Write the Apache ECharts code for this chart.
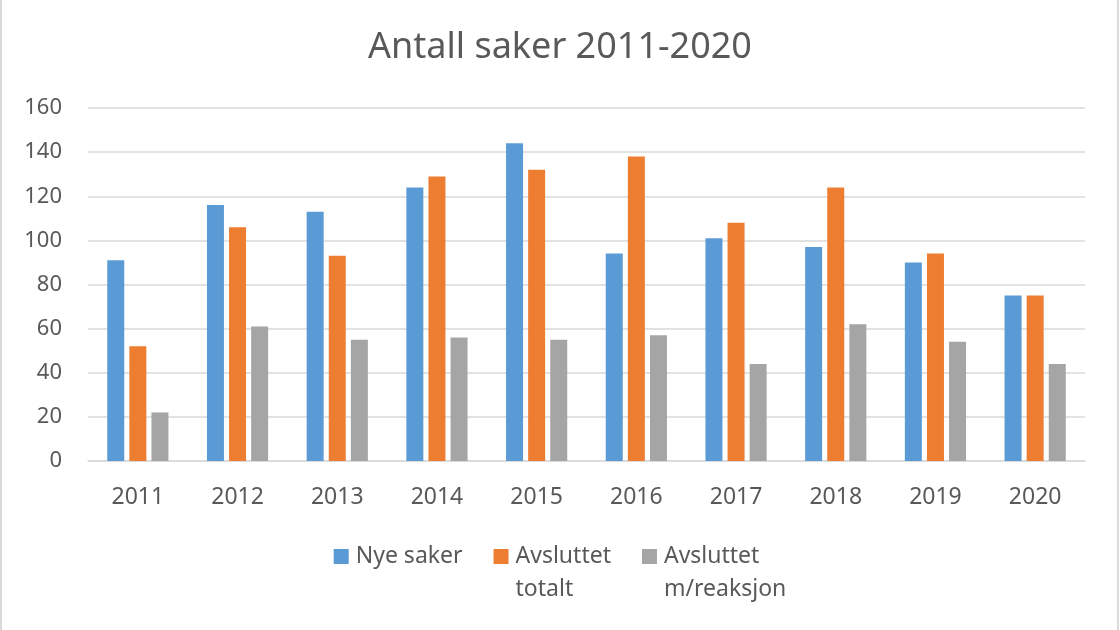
<!DOCTYPE html>
<html>
<head>
<meta charset="utf-8">
<script src="https://cdn.jsdelivr.net/npm/echarts@6/dist/echarts.min.js"></script>
<style>
  html, body { margin: 0; padding: 0; background: #ffffff; }
  #chart { width: 1120px; height: 630px; }
</style>
</head>
<body>
<div id="chart"></div>
<script>
const titleText = 'Antall saker 2011-2020';
const categories = ['2011', '2012', '2013', '2014', '2015', '2016', '2017', '2018', '2019', '2020'];
const nyeSaker = [91, 116, 113, 124, 144, 94, 101, 97, 90, 75];
const avsluttetTotalt = [52, 106, 93, 129, 132, 138, 108, 124, 94, 75];
const avsluttetReaksjon = [22, 61, 55, 56, 55, 57, 44, 62, 54, 44];
const seriesNames = ['Nye saker', 'Avsluttet\ntotalt', 'Avsluttet\nm/reaksjon'];
const yTicks = [0, 20, 40, 60, 80, 100, 120, 140, 160];

const FONT = 'Noto Sans';
const TXT = '#595959';
const colors = ['#5B9BD5', '#ED7D31', '#A5A5A5'];
const LH = 33;

const chart = echarts.init(document.getElementById('chart'), null, { renderer: 'canvas' });

const option = {
  animation: false,
  backgroundColor: '#ffffff',
  color: colors,
  title: {
    text: titleText,
    left: 'center',
    top: 25,
    textStyle: { fontFamily: FONT, fontSize: 36, fontWeight: 'normal', color: TXT }
  },
  graphic: [{
    type: 'rect',
    shape: { x: 1, y: -10, width: 1117, height: 660 },
    style: { fill: 'none', stroke: '#d9d9d9', lineWidth: 2 },
    silent: true
  }],
  legend: {
    left: 'center',
    top: 502,
    itemWidth: 15,
    itemHeight: 15,
    itemGap: 31,
    icon: 'rect',
    formatter: function (name) {
      return name.indexOf('\n') >= 0 ? '\u00a0\n' + name : name;
    },
    textStyle: { fontFamily: FONT, fontSize: 23, color: TXT, lineHeight: LH, padding: [0, 0, 0, 2] },
    data: seriesNames
  },
  grid: { left: 88, right: 35, top: 108, bottom: 169, containLabel: false },
  xAxis: {
    type: 'category',
    data: categories,
    axisLine: { show: true, lineStyle: { color: '#d9d9d9', width: 1.5 } },
    axisTick: { show: false },
    axisLabel: { fontFamily: FONT, fontSize: 23, color: TXT, margin: 25 },
    splitLine: { show: false }
  },
  yAxis: {
    type: 'value',
    min: yTicks[0],
    max: yTicks[yTicks.length - 1],
    interval: 20,
    axisLine: { show: false },
    axisTick: { show: false },
    axisLabel: { fontFamily: FONT, fontSize: 22, color: TXT, margin: 26 },
    splitLine: { lineStyle: { color: '#d9d9d9', width: 1.5 } }
  },
  series: [
    { name: seriesNames[0], type: 'bar', data: nyeSaker, barWidth: 17, barGap: '30%' },
    { name: seriesNames[1], type: 'bar', data: avsluttetTotalt, barWidth: 17, barGap: '30%' },
    { name: seriesNames[2], type: 'bar', data: avsluttetReaksjon, barWidth: 17, barGap: '30%' }
  ]
};

chart.setOption(option);
</script>
</body>
</html>
